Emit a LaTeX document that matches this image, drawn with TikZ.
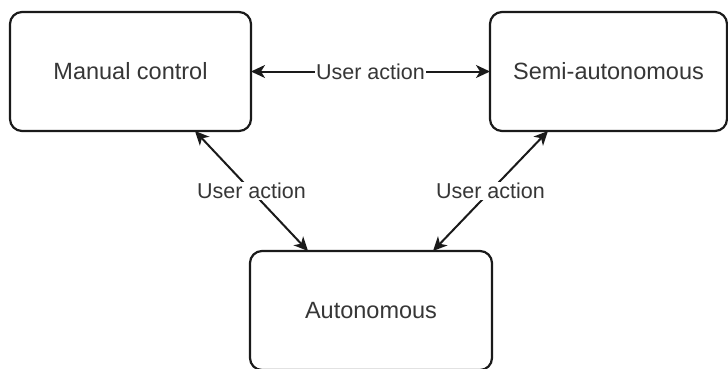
\documentclass[tikz,border=0pt]{standalone}
\usepackage{fontspec}
\setmainfont{Liberation Sans}
\usetikzlibrary{arrows.meta}
\definecolor{txt}{HTML}{363636}
\definecolor{ln}{HTML}{1A1A1A}
\begin{document}
\begin{tikzpicture}[x=1pt,y=-1pt,
  state/.style={draw=ln, line width=2.2pt, rounded corners=12pt, fill=white,
    minimum width=#1, minimum height=119pt, inner sep=0pt, outer sep=0pt,
    text=txt, font=\fontsize{23.5}{28}\selectfont},
  state/.default=241pt,
  link/.style={draw=ln, line width=2pt,
    {Stealth[length=14pt,width=13pt,inset=4pt]}-{Stealth[length=14pt,width=13pt,inset=4pt]}},
  lbl/.style={fill=white, text=txt, inner sep=1pt,
    font=\fontsize{21.5}{26}\selectfont}]
  \useasboundingbox (0,0) rectangle (728,368);
  \clip (0,0) rectangle (728,368);
  \fill[white] (0,0) rectangle (728,368);

  % the three operating modes
  \node[state=241pt] (manual) at (130.5,71.5) {Manual control};
  \node[state=237pt] (semi)   at (608.5,71.5) {Semi-autonomous};
  \node[state=242pt] (auto)   at (371,310.5)  {Autonomous};

  % transitions between modes
  \draw[link] (manual.east) -- node[lbl] {User action} (semi.west);
  \draw[link] ([xshift=64.5pt]manual.south) -- node[lbl] {User action} ([xshift=-63pt]auto.north);
  \draw[link] ([xshift=-60.5pt]semi.south) -- node[lbl] {User action} ([xshift=62pt]auto.north);
\end{tikzpicture}
\end{document}
